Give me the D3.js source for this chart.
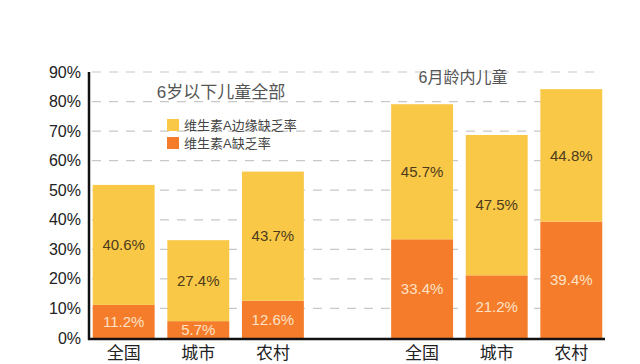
<!DOCTYPE html>
<html>
<head>
<meta charset="utf-8">
<script src="https://cdn.jsdelivr.net/npm/d3@7"></script>
<style>
  body { margin: 0; background: #fff; }
  svg { display: block; font-family: "Liberation Sans", "Noto Sans CJK SC", sans-serif; }
</style>
</head>
<body>
<script>
var slots = ['a全国', 'a城市', 'a农村', 'gap', 'b全国', 'b城市', 'b农村'];
var categories = ['全国', '城市', '农村', '', '全国', '城市', '农村'];
var deficiency = [11.2, 5.7, 12.6, null, 33.4, 21.2, 39.4];
var marginal = [40.6, 27.4, 43.7, null, 45.7, 47.5, 44.8];
var yTicks = [0, 10, 20, 30, 40, 50, 60, 70, 80, 90];
var groupTitles = ['6岁以下儿童全部', '6月龄内儿童'];
var legendLabels = ['维生素A边缘缺乏率', '维生素A缺乏率'];

var width = 640, height = 364;
var yellow = '#f9c847', orange = '#f57c2b';

var svg = d3.select('body').append('svg')
    .attr('width', width)
    .attr('height', height);

var x = d3.scaleBand()
    .domain(slots)
    .range([89, 606])
    .paddingInner(0.17)
    .paddingOuter(0.05);

var y = d3.scaleLinear()
    .domain([0, 90])
    .range([338, 72]);

// dashed grid
svg.append('g')
  .selectAll('line')
  .data(yTicks.filter(function(d) { return d > 0; }))
  .enter().append('line')
    .attr('x1', 92)
    .attr('x2', 600)
    .attr('y1', function(d) { return y(d); })
    .attr('y2', function(d) { return y(d); })
    .attr('stroke', '#c8c8c8')
    .attr('stroke-width', 1.2)
    .attr('stroke-dasharray', '9,8');

// y tick labels
svg.append('g')
  .selectAll('text')
  .data(yTicks)
  .enter().append('text')
    .attr('x', 81)
    .attr('y', function(d) { return y(d); })
    .attr('dy', '0.35em')
    .attr('text-anchor', 'end')
    .attr('font-size', '16px')
    .attr('fill', '#222')
    .text(function(d) { return d + '%'; });

var rows = slots.map(function(s, i) {
  return { slot: s, cat: categories[i], a: deficiency[i], b: marginal[i] };
}).filter(function(d) { return d.a != null; });

var bar = svg.selectAll('.bar')
  .data(rows)
  .enter().append('g')
    .attr('class', 'bar');

// orange - deficiency
bar.append('rect')
    .attr('x', function(d) { return x(d.slot); })
    .attr('width', x.bandwidth())
    .attr('y', function(d) { return y(d.a); })
    .attr('height', function(d) { return y(0) - y(d.a); })
    .attr('fill', orange);

// yellow - marginal deficiency, stacked on top
bar.append('rect')
    .attr('x', function(d) { return x(d.slot); })
    .attr('width', x.bandwidth())
    .attr('y', function(d) { return y(d.a + d.b); })
    .attr('height', function(d) { return y(d.a) - y(d.a + d.b); })
    .attr('fill', yellow);

bar.append('text')
    .attr('x', function(d) { return x(d.slot) + x.bandwidth() / 2; })
    .attr('y', function(d) { return (y(0) + y(d.a)) / 2; })
    .attr('dy', '0.35em')
    .attr('text-anchor', 'middle')
    .attr('font-size', '15px')
    .attr('fill', '#fde2c6')
    .text(function(d) { return d.a.toFixed(1) + '%'; });

bar.append('text')
    .attr('x', function(d) { return x(d.slot) + x.bandwidth() / 2; })
    .attr('y', function(d) { return (y(d.a) + y(d.a + d.b)) / 2; })
    .attr('dy', '0.35em')
    .attr('text-anchor', 'middle')
    .attr('font-size', '15px')
    .attr('fill', '#4d3b1c')
    .text(function(d) { return d.b.toFixed(1) + '%'; });

// category labels
bar.append('text')
    .attr('x', function(d) { return x(d.slot) + x.bandwidth() / 2; })
    .attr('y', 359)
    .attr('text-anchor', 'middle')
    .attr('font-size', '17px')
    .attr('fill', '#222')
    .text(function(d) { return d.cat; });

// axes lines
svg.append('line')
    .attr('x1', 89).attr('x2', 89)
    .attr('y1', y(90)).attr('y2', y(0) + 2)
    .attr('stroke', '#111').attr('stroke-width', 2.5);
svg.append('line')
    .attr('x1', 88).attr('x2', 605)
    .attr('y1', y(0) + 1).attr('y2', y(0) + 1)
    .attr('stroke', '#111').attr('stroke-width', 2.5);

// group titles
svg.append('text')
    .attr('x', 221).attr('y', 98)
    .attr('text-anchor', 'middle')
    .attr('font-size', '17px')
    .attr('fill', '#555')
    .text(groupTitles[0]);
svg.append('text')
    .attr('x', 463).attr('y', 83)
    .attr('text-anchor', 'middle')
    .attr('font-size', '16px')
    .attr('fill', '#555')
    .text(groupTitles[1]);

// legend
var legend = svg.append('g')
  .selectAll('g')
  .data(legendLabels)
  .enter().append('g')
    .attr('transform', function(d, i) { return 'translate(167,' + (119 + i * 18) + ')'; });
legend.append('rect')
    .attr('width', 12).attr('height', 12)
    .attr('fill', function(d, i) { return i === 0 ? yellow : orange; });
legend.append('text')
    .attr('x', 17).attr('y', 6)
    .attr('dy', '0.35em')
    .attr('font-size', '13px')
    .attr('fill', '#444')
    .text(function(d) { return d; });
</script>
</body>
</html>
